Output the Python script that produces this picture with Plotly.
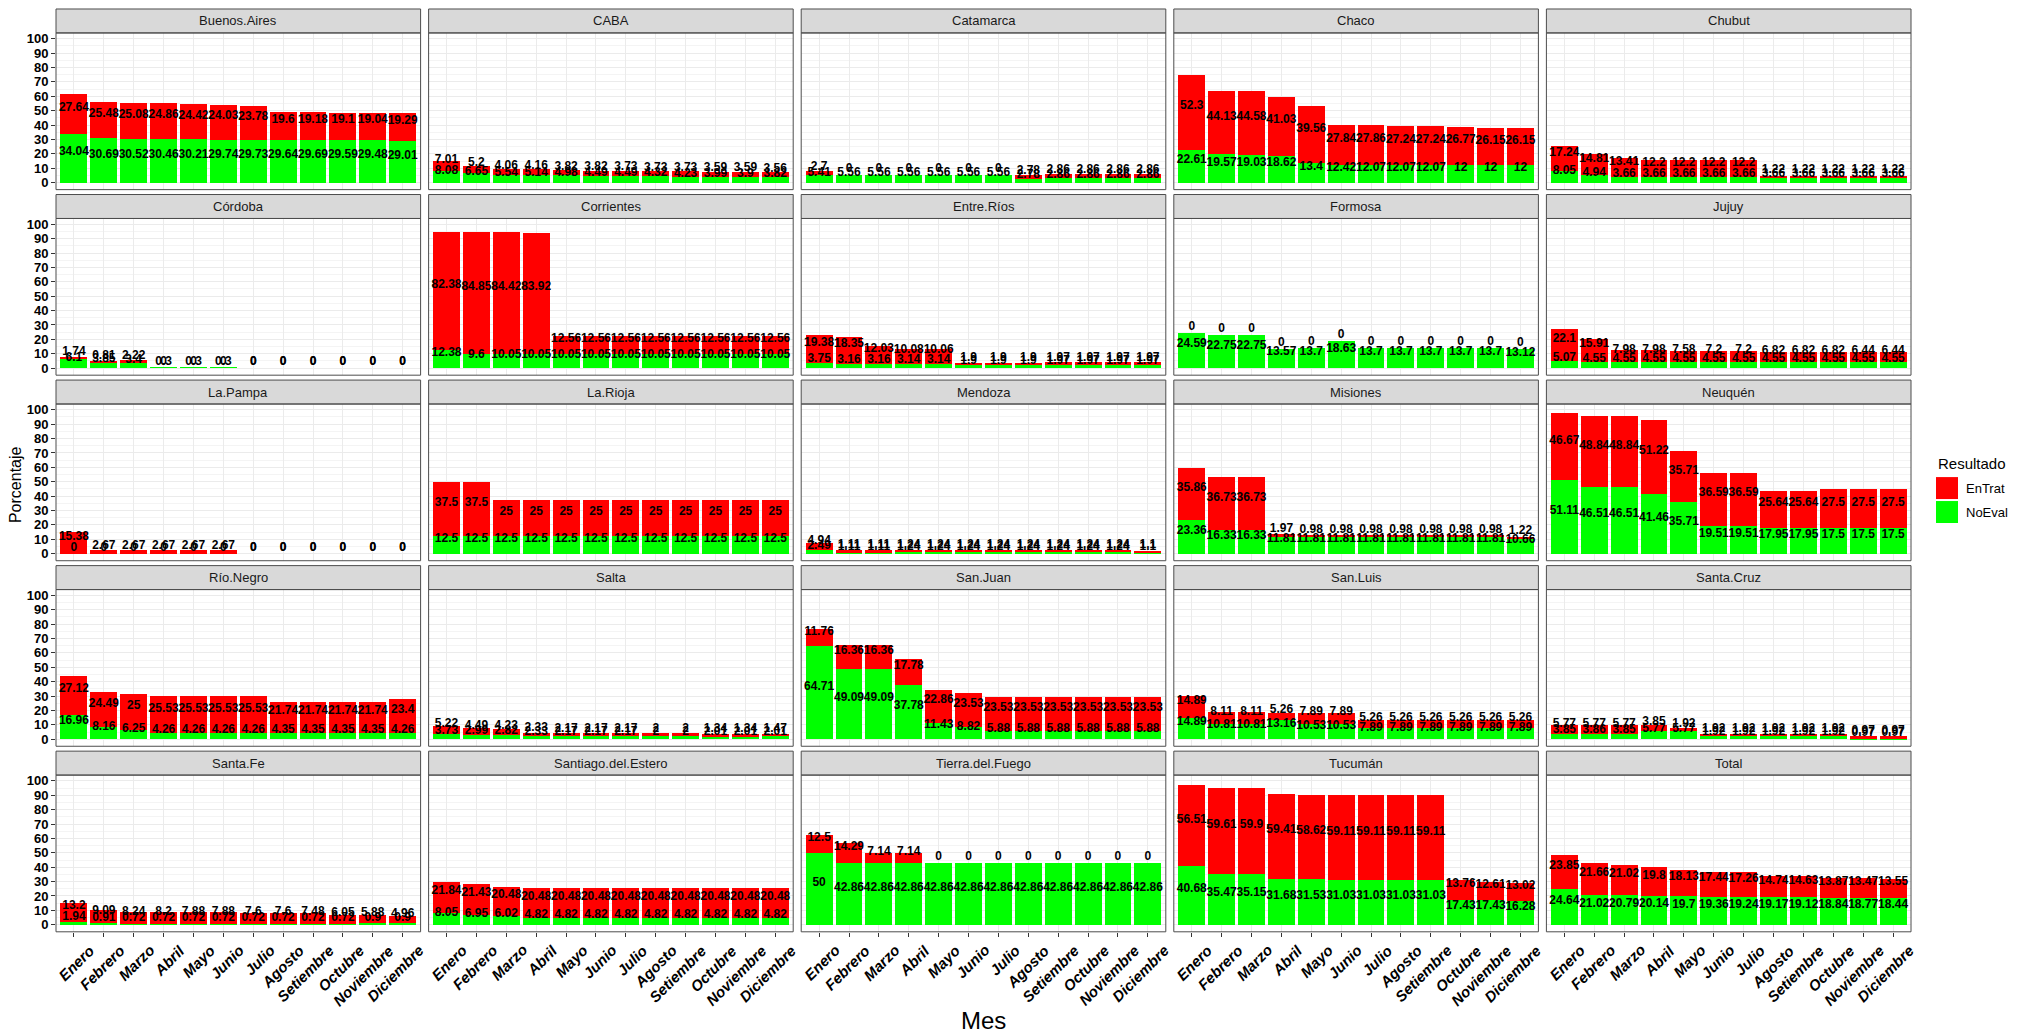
import plotly.graph_objects as go

MESES = ["Enero", "Febrero", "Marzo", "Abril", "Mayo", "Junio", "Julio",
         "Agosto", "Setiembre", "Octubre", "Noviembre", "Diciembre"]

PROVINCIAS = ["Buenos.Aires", "CABA", "Catamarca", "Chaco", "Chubut",
              "Córdoba", "Corrientes", "Entre.Ríos", "Formosa", "Jujuy",
              "La.Pampa", "La.Rioja", "Mendoza", "Misiones", "Neuquén",
              "Río.Negro", "Salta", "San.Juan", "San.Luis", "Santa.Cruz",
              "Santa.Fe", "Santiago.del.Estero", "Tierra.del.Fuego", "Tucumán", "Total"]

# NoEval (green) and EnTrat (red) percentages per province, Enero..Diciembre
NOEVAL_BUENOS_AIRES = [34.04, 30.69, 30.52, 30.46, 30.21, 29.74, 29.73, 29.64, 29.69, 29.59, 29.48, 29.01]
ENTRAT_BUENOS_AIRES = [27.64, 25.48, 25.08, 24.86, 24.42, 24.03, 23.78, 19.6, 19.18, 19.1, 19.04, 19.29]
NOEVAL_CABA = [8.08, 6.65, 5.54, 5.14, 4.98, 4.49, 4.49, 4.32, 4.23, 3.99, 3.9, 3.82]
ENTRAT_CABA = [7.01, 5.2, 4.06, 4.16, 3.82, 3.82, 3.73, 3.73, 3.73, 3.59, 3.59, 3.56]
NOEVAL_CATAMARCA = [5.41, 5.56, 5.56, 5.56, 5.56, 5.56, 5.56, 2.78, 2.86, 2.86, 2.86, 2.86]
ENTRAT_CATAMARCA = [2.7, 0, 0, 0, 0, 0, 0, 2.78, 2.86, 2.86, 2.86, 2.86]
NOEVAL_CHACO = [22.61, 19.57, 19.03, 18.62, 13.4, 12.42, 12.07, 12.07, 12.07, 12, 12, 12]
ENTRAT_CHACO = [52.3, 44.13, 44.58, 41.03, 39.56, 27.84, 27.86, 27.24, 27.24, 26.77, 26.15, 26.15]
NOEVAL_CHUBUT = [8.05, 4.94, 3.66, 3.66, 3.66, 3.66, 3.66, 3.66, 3.66, 3.66, 3.66, 3.66]
ENTRAT_CHUBUT = [17.24, 14.81, 13.41, 12.2, 12.2, 12.2, 12.2, 1.22, 1.22, 1.22, 1.22, 1.22]
NOEVAL_CORDOBA = [6.1, 3.85, 3.4, 0.3, 0.3, 0.3, 0, 0, 0, 0, 0, 0]
ENTRAT_CORDOBA = [1.74, 0.81, 2.22, 0, 0, 0, 0, 0, 0, 0, 0, 0]
NOEVAL_CORRIENTES = [12.38, 9.6, 10.05, 10.05, 10.05, 10.05, 10.05, 10.05, 10.05, 10.05, 10.05, 10.05]
ENTRAT_CORRIENTES = [82.38, 84.85, 84.42, 83.92, 12.56, 12.56, 12.56, 12.56, 12.56, 12.56, 12.56, 12.56]
NOEVAL_ENTRE_RIOS = [3.75, 3.16, 3.16, 3.14, 3.14, 1.9, 1.9, 1.9, 1.97, 1.97, 1.97, 1.97]
ENTRAT_ENTRE_RIOS = [19.38, 18.35, 12.03, 10.08, 10.06, 1.9, 1.9, 1.9, 1.97, 1.97, 1.97, 1.97]
NOEVAL_FORMOSA = [24.59, 22.75, 22.75, 13.57, 13.7, 18.63, 13.7, 13.7, 13.7, 13.7, 13.7, 13.12]
ENTRAT_FORMOSA = [0, 0, 0, 0, 0, 0, 0, 0, 0, 0, 0, 0]
NOEVAL_JUJUY = [5.07, 4.55, 4.55, 4.55, 4.55, 4.55, 4.55, 4.55, 4.55, 4.55, 4.55, 4.55]
ENTRAT_JUJUY = [22.1, 15.91, 7.98, 7.98, 7.58, 7.2, 7.2, 6.82, 6.82, 6.82, 6.44, 6.44]
NOEVAL_LA_PAMPA = [0, 0, 0, 0, 0, 0, 0, 0, 0, 0, 0, 0]
ENTRAT_LA_PAMPA = [15.38, 2.67, 2.67, 2.67, 2.67, 2.67, 0, 0, 0, 0, 0, 0]
NOEVAL_LA_RIOJA = [12.5, 12.5, 12.5, 12.5, 12.5, 12.5, 12.5, 12.5, 12.5, 12.5, 12.5, 12.5]
ENTRAT_LA_RIOJA = [37.5, 37.5, 25, 25, 25, 25, 25, 25, 25, 25, 25, 25]
NOEVAL_MENDOZA = [2.49, 1.11, 1.11, 1.24, 1.24, 1.24, 1.24, 1.24, 1.24, 1.24, 1.24, 1.1]
ENTRAT_MENDOZA = [4.94, 1.11, 1.11, 1.24, 1.24, 1.24, 1.24, 1.24, 1.24, 1.24, 1.24, 1.1]
NOEVAL_MISIONES = [23.36, 16.33, 16.33, 11.81, 11.81, 11.81, 11.81, 11.81, 11.81, 11.81, 11.81, 10.66]
ENTRAT_MISIONES = [35.86, 36.73, 36.73, 1.97, 0.98, 0.98, 0.98, 0.98, 0.98, 0.98, 0.98, 1.22]
NOEVAL_NEUQUEN = [51.11, 46.51, 46.51, 41.46, 35.71, 19.51, 19.51, 17.95, 17.95, 17.5, 17.5, 17.5]
ENTRAT_NEUQUEN = [46.67, 48.84, 48.84, 51.22, 35.71, 36.59, 36.59, 25.64, 25.64, 27.5, 27.5, 27.5]
NOEVAL_RIO_NEGRO = [16.96, 8.16, 6.25, 4.26, 4.26, 4.26, 4.26, 4.35, 4.35, 4.35, 4.35, 4.26]
ENTRAT_RIO_NEGRO = [27.12, 24.49, 25, 25.53, 25.53, 25.53, 25.53, 21.74, 21.74, 21.74, 21.74, 23.4]
NOEVAL_SALTA = [3.73, 2.99, 2.82, 2.33, 2.17, 2.17, 2.17, 2, 2, 2.01, 2.01, 2.01]
ENTRAT_SALTA = [5.22, 4.49, 4.23, 2.33, 2.17, 2.17, 2.17, 2, 2, 1.34, 1.34, 1.47]
NOEVAL_SAN_JUAN = [64.71, 49.09, 49.09, 37.78, 11.43, 8.82, 5.88, 5.88, 5.88, 5.88, 5.88, 5.88]
ENTRAT_SAN_JUAN = [11.76, 16.36, 16.36, 17.78, 22.86, 23.53, 23.53, 23.53, 23.53, 23.53, 23.53, 23.53]
NOEVAL_SAN_LUIS = [14.89, 10.81, 10.81, 13.16, 10.53, 10.53, 7.89, 7.89, 7.89, 7.89, 7.89, 7.89]
ENTRAT_SAN_LUIS = [14.89, 8.11, 8.11, 5.26, 7.89, 7.89, 5.26, 5.26, 5.26, 5.26, 5.26, 5.26]
NOEVAL_SANTA_CRUZ = [3.85, 3.86, 3.85, 5.77, 5.77, 1.92, 1.92, 1.92, 1.92, 1.92, 0.97, 0.97]
ENTRAT_SANTA_CRUZ = [5.77, 5.77, 5.77, 3.85, 1.92, 1.92, 1.92, 1.92, 1.92, 1.92, 0.97, 0.97]
NOEVAL_SANTA_FE = [1.94, 0.91, 0.72, 0.72, 0.72, 0.72, 0.72, 0.72, 0.72, 0.72, 0.9, 0.9]
ENTRAT_SANTA_FE = [13.2, 9.09, 8.24, 8.2, 7.88, 7.88, 7.6, 7.6, 7.48, 6.05, 5.88, 4.96]
NOEVAL_SANTIAGO = [8.05, 6.95, 6.02, 4.82, 4.82, 4.82, 4.82, 4.82, 4.82, 4.82, 4.82, 4.82]
ENTRAT_SANTIAGO = [21.84, 21.43, 20.48, 20.48, 20.48, 20.48, 20.48, 20.48, 20.48, 20.48, 20.48, 20.48]
NOEVAL_TIERRA_DEL_FUEGO = [50, 42.86, 42.86, 42.86, 42.86, 42.86, 42.86, 42.86, 42.86, 42.86, 42.86, 42.86]
ENTRAT_TIERRA_DEL_FUEGO = [12.5, 14.29, 7.14, 7.14, 0, 0, 0, 0, 0, 0, 0, 0]
NOEVAL_TUCUMAN = [40.68, 35.47, 35.15, 31.68, 31.53, 31.03, 31.03, 31.03, 31.03, 17.43, 17.43, 16.28]
ENTRAT_TUCUMAN = [56.51, 59.61, 59.9, 59.41, 58.62, 59.11, 59.11, 59.11, 59.11, 13.76, 12.61, 13.02]
NOEVAL_TOTAL = [24.64, 21.02, 20.79, 20.14, 19.7, 19.36, 19.24, 19.17, 19.12, 18.84, 18.77, 18.44]
ENTRAT_TOTAL = [23.85, 21.66, 21.02, 19.8, 18.13, 17.44, 17.26, 14.74, 14.63, 13.87, 13.47, 13.55]

NOEVAL = [NOEVAL_BUENOS_AIRES, NOEVAL_CABA, NOEVAL_CATAMARCA, NOEVAL_CHACO, NOEVAL_CHUBUT,
          NOEVAL_CORDOBA, NOEVAL_CORRIENTES, NOEVAL_ENTRE_RIOS, NOEVAL_FORMOSA, NOEVAL_JUJUY,
          NOEVAL_LA_PAMPA, NOEVAL_LA_RIOJA, NOEVAL_MENDOZA, NOEVAL_MISIONES, NOEVAL_NEUQUEN,
          NOEVAL_RIO_NEGRO, NOEVAL_SALTA, NOEVAL_SAN_JUAN, NOEVAL_SAN_LUIS, NOEVAL_SANTA_CRUZ,
          NOEVAL_SANTA_FE, NOEVAL_SANTIAGO, NOEVAL_TIERRA_DEL_FUEGO, NOEVAL_TUCUMAN, NOEVAL_TOTAL]
ENTRAT = [ENTRAT_BUENOS_AIRES, ENTRAT_CABA, ENTRAT_CATAMARCA, ENTRAT_CHACO, ENTRAT_CHUBUT,
          ENTRAT_CORDOBA, ENTRAT_CORRIENTES, ENTRAT_ENTRE_RIOS, ENTRAT_FORMOSA, ENTRAT_JUJUY,
          ENTRAT_LA_PAMPA, ENTRAT_LA_RIOJA, ENTRAT_MENDOZA, ENTRAT_MISIONES, ENTRAT_NEUQUEN,
          ENTRAT_RIO_NEGRO, ENTRAT_SALTA, ENTRAT_SAN_JUAN, ENTRAT_SAN_LUIS, ENTRAT_SANTA_CRUZ,
          ENTRAT_SANTA_FE, ENTRAT_SANTIAGO, ENTRAT_TIERRA_DEL_FUEGO, ENTRAT_TUCUMAN, ENTRAT_TOTAL]

Y_TICKS = [0, 10, 20, 30, 40, 50, 60, 70, 80, 90, 100]
SERIES = ["EnTrat", "NoEval"]
COLORS = {"EnTrat": "#FF0000", "NoEval": "#00FF00"}

W, H = 2027, 1036
LEFT, RIGHT, GAP_X = 56, 1911, 8
TOP0, ROW_STEP, STRIP_H, BLOCK_H = 7, 185.9, 24, 181
PANEL_W = (RIGHT - LEFT - 4 * GAP_X) / 5
FONT = "Liberation Sans, Arial, sans-serif"


def fmt(v):
    return "{:g}".format(round(v, 2))


fig = go.Figure()
shapes = []
annotations = []
layout = {}

for i, prov in enumerate(PROVINCIAS):
    r, c = divmod(i, 5)
    sfx = "" if i == 0 else str(i + 1)
    xa, ya = "x" + sfx, "y" + sfx
    x0 = LEFT + c * (PANEL_W + GAP_X)
    x1 = x0 + PANEL_W
    st = TOP0 + r * ROW_STEP
    pt = st + STRIP_H
    pb = st + BLOCK_H

    ne, et = NOEVAL[i], ENTRAT[i]
    fig.add_trace(go.Bar(x=MESES, y=ne, marker=dict(color=COLORS["NoEval"], line=dict(width=0)),
                         xaxis=xa, yaxis=ya, showlegend=False, name="NoEval", hoverinfo="x+y+name"))
    fig.add_trace(go.Bar(x=MESES, y=et, marker=dict(color=COLORS["EnTrat"], line=dict(width=0)),
                         xaxis=xa, yaxis=ya, showlegend=False, name="EnTrat", hoverinfo="x+y+name"))
    # labels with their baseline on the stack midpoints
    lx = MESES + MESES
    ly = [v / 2 for v in ne] + [a + b / 2 for a, b in zip(ne, et)]
    lt = [fmt(v) for v in ne] + [fmt(v) for v in et]
    fig.add_trace(go.Scatter(x=lx, y=ly, text=lt, mode="text", textposition="top center",
                             marker=dict(size=0), xaxis=xa, yaxis=ya,
                             textfont=dict(family=FONT, size=12, color="black", weight="bold"),
                             showlegend=False, hoverinfo="skip", cliponaxis=False))

    layout["xaxis" + sfx] = dict(
        domain=[x0 / W, x1 / W], anchor=ya, type="category", categoryorder="array",
        categoryarray=MESES, range=[-0.6, 11.6], showgrid=True, gridcolor="#EBEBEB", gridwidth=1,
        showticklabels=False, ticks="outside" if r == 4 else "", ticklen=4, tickcolor="#333333",
        zeroline=False, showline=False, fixedrange=True)
    layout["yaxis" + sfx] = dict(
        domain=[1 - pb / H, 1 - pt / H], anchor=xa, range=[-4.9, 104.0],
        tickvals=Y_TICKS, showticklabels=(c == 0), ticks="outside" if c == 0 else "",
        ticklen=4, tickcolor="#333333",
        tickfont=dict(family=FONT, size=13, color="black", weight="bold"),
        showgrid=True, gridcolor="#EBEBEB", gridwidth=1,
        minor=dict(tickvals=[5, 15, 25, 35, 45, 55, 65, 75, 85, 95], showgrid=True,
                   gridcolor="#F4F4F4", gridwidth=1),
        zeroline=False, showline=False, fixedrange=True)

    # strip
    shapes.append(dict(type="rect", xref="paper", yref="paper", x0=x0 / W, x1=x1 / W,
                       y0=1 - pt / H, y1=1 - st / H, fillcolor="#D9D9D9",
                       line=dict(color="#4D4D4D", width=1), layer="above"))
    # panel border
    shapes.append(dict(type="rect", xref="paper", yref="paper", x0=x0 / W, x1=x1 / W,
                       y0=1 - pb / H, y1=1 - pt / H, fillcolor="rgba(0,0,0,0)",
                       line=dict(color="#4D4D4D", width=1), layer="above"))
    annotations.append(dict(text=prov, xref="paper", yref="paper", x=(x0 + x1) / 2 / W,
                            y=1 - (st + pt) / 2 / H, showarrow=False, xanchor="center",
                            yanchor="middle", font=dict(family=FONT, size=13, color="#1A1A1A")))
    # rotated month labels for the bottom row
    if r == 4:
        for m in MESES:
            annotations.append(dict(text=m, xref=xa, yref="paper", x=m, y=1 - pb / H,
                                    showarrow=False, xanchor="right", yanchor="top",
                                    textangle=-45, yshift=-7, xshift=27,
                                    font=dict(family=FONT, size=15, color="black",
                                              weight="bold", style="italic")))

# axis titles
annotations.append(dict(text="Mes", xref="paper", yref="paper", x=(LEFT + RIGHT) / 2 / W,
                        y=1 - 1020 / H, showarrow=False, xanchor="center", yanchor="middle",
                        font=dict(family=FONT, size=24, color="black")))
annotations.append(dict(text="Porcentaje", xref="paper", yref="paper", x=15 / W,
                        y=1 - 484 / H, showarrow=False, xanchor="center", yanchor="middle",
                        textangle=-90, font=dict(family=FONT, size=16, color="black")))

# legend (manual, ggplot style)
LX = 1936
annotations.append(dict(text="Resultado", xref="paper", yref="paper", x=LX / W, y=1 - 462 / H,
                        showarrow=False, xanchor="left", yanchor="middle",
                        font=dict(family=FONT, size=15, color="black")))
for k, s in enumerate(SERIES):
    ky0 = 476 + k * 24
    shapes.append(dict(type="rect", xref="paper", yref="paper", x0=LX / W, x1=(LX + 22) / W,
                       y0=1 - (ky0 + 22) / H, y1=1 - ky0 / H, fillcolor=COLORS[s],
                       line=dict(width=0)))
    annotations.append(dict(text=s, xref="paper", yref="paper", x=(LX + 28) / W,
                            y=1 - (ky0 + 11) / H, showarrow=False, xanchor="left",
                            yanchor="middle", font=dict(family=FONT, size=13, color="black")))

fig.update_layout(
    width=W, height=H, margin=dict(l=0, r=0, t=0, b=0),
    paper_bgcolor="white", plot_bgcolor="white",
    barmode="stack", bargap=0.1, showlegend=False,
    shapes=shapes, annotations=annotations, **layout)

fig.write_html("out.html", config={"displayModeBar": False},
               post_script="document.body.style.margin='0';document.body.style.overflow='hidden';")
